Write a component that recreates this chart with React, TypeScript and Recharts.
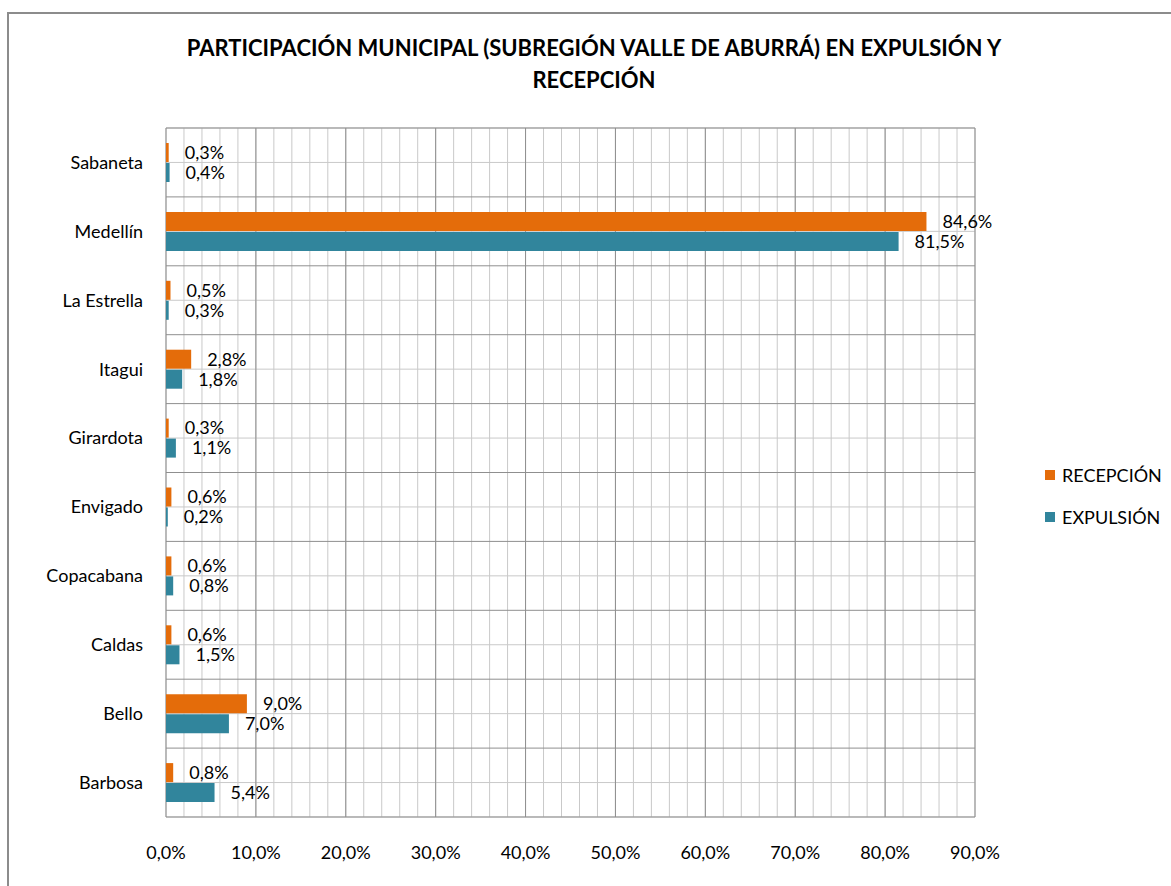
import React from 'react';
import {
  BarChart,
  Bar,
  XAxis,
  YAxis,
  CartesianGrid,
  LabelList,
} from 'recharts';

const municipios = [
  'Sabaneta',
  'Medellín',
  'La Estrella',
  'Itagui',
  'Girardota',
  'Envigado',
  'Copacabana',
  'Caldas',
  'Bello',
  'Barbosa',
];
const recepcion = [0.3, 84.6, 0.5, 2.8, 0.3, 0.6, 0.6, 0.6, 9.0, 0.8];
const expulsion = [0.4, 81.5, 0.3, 1.8, 1.1, 0.2, 0.8, 1.5, 7.0, 5.4];
const majorTicks = [0, 10, 20, 30, 40, 50, 60, 70, 80, 90];
const minorTicks = [
  0, 2, 4, 6, 8, 10, 12, 14, 16, 18, 20, 22, 24, 26, 28, 30, 32, 34, 36, 38, 40,
  42, 44, 46, 48, 50, 52, 54, 56, 58, 60, 62, 64, 66, 68, 70, 72, 74, 76, 78, 80,
  82, 84, 86, 88, 90,
];

const data = municipios.map((name, i) => ({
  name,
  recepcion: recepcion[i],
  expulsion: expulsion[i],
}));

const ORANGE = '#E46C0A';
const TEAL = '#31859C';
const FONT = 'Lato, "Open Sans", sans-serif';
const X_MAX = 90;

const pct = (v: number) => `${Number(v).toFixed(1).replace('.', ',')}%`;

// light lines every 2% on the value axis
const minorVertical = ({ xAxis, offset }: any) =>
  minorTicks.map((v) =>
    xAxis && typeof xAxis.scale === 'function'
      ? xAxis.scale(v)
      : offset.left + (offset.width * v) / X_MAX
  );

// dark lines on the category boundaries
const bandBoundaries = ({ offset }: any) =>
  Array.from({ length: municipios.length + 1 }, (_, i) =>
    offset.top + (offset.height * i) / municipios.length
  );

const App = () => {
  return (
    <div
      style={{
        position: 'absolute',
        left: 0,
        top: 0,
        width: 1171,
        height: 886,
        overflow: 'hidden',
        background: '#fff',
        fontFamily: FONT,
      }}
    >
      <div
        style={{
          position: 'absolute',
          left: 7,
          top: 12,
          width: 1300,
          height: 1000,
          border: '2px solid #8c8c8c',
        }}
      />
      <div
        style={{
          position: 'absolute',
          left: 0,
          top: 32,
          width: 1188,
          textAlign: 'center',
          fontWeight: 700,
          fontSize: 22,
          lineHeight: '32px',
          color: '#000',
        }}
      >
        PARTICIPACIÓN MUNICIPAL (SUBREGIÓN VALLE DE ABURRÁ) EN EXPULSIÓN Y
        <br />
        RECEPCIÓN
      </div>

      <div style={{ position: 'absolute', left: 0, top: 0 }}>
        <BarChart
          width={1171}
          height={886}
          data={data}
          layout="vertical"
          margin={{ top: 128, right: 196, bottom: 0, left: 0 }}
          barGap={1}
          barSize={19}
        >
          <XAxis
            type="number"
            domain={[0, X_MAX]}
            ticks={majorTicks}
            tickFormatter={pct}
            height={69}
            axisLine={false}
            tickLine={false}
            tickSize={0}
            tickMargin={29}
            tick={{ fill: '#000', fontSize: 18, fontFamily: FONT }}
          />
          <YAxis
            type="category"
            dataKey="name"
            width={166}
            axisLine={false}
            tickLine={false}
            tickSize={0}
            tickMargin={23}
            tick={{ fill: '#000', fontSize: 18, fontFamily: FONT }}
          />
          <CartesianGrid
            stroke="#c9c9c9"
            strokeWidth={1}
            verticalCoordinatesGenerator={minorVertical}
          />
          <CartesianGrid
            stroke="#8f8f8f"
            strokeWidth={1}
            horizontalCoordinatesGenerator={bandBoundaries}
          />
          <Bar
            dataKey="recepcion"
            name="RECEPCIÓN"
            fill={ORANGE}
            isAnimationActive={false}
          >
            <LabelList
              dataKey="recepcion"
              position="right"
              offset={16}
              formatter={(v: any) => pct(v)}
              style={{ fill: '#000', fontSize: 18, fontFamily: FONT }}
            />
          </Bar>
          <Bar
            dataKey="expulsion"
            name="EXPULSIÓN"
            fill={TEAL}
            isAnimationActive={false}
          >
            <LabelList
              dataKey="expulsion"
              position="right"
              offset={16}
              formatter={(v: any) => pct(v)}
              style={{ fill: '#000', fontSize: 18, fontFamily: FONT }}
            />
          </Bar>
        </BarChart>
      </div>

      {/* legend */}
      {[
        { label: 'RECEPCIÓN', color: ORANGE, top: 464 },
        { label: 'EXPULSIÓN', color: TEAL, top: 506 },
      ].map((item) => (
        <div
          key={item.label}
          style={{
            position: 'absolute',
            left: 1045,
            top: item.top,
            display: 'flex',
            alignItems: 'center',
            fontSize: 18,
            lineHeight: '22px',
            color: '#000',
          }}
        >
          <span
            style={{
              display: 'inline-block',
              width: 10,
              height: 10,
              background: item.color,
              marginRight: 7,
            }}
          />
          {item.label}
        </div>
      ))}
    </div>
  );
};

export default App;
